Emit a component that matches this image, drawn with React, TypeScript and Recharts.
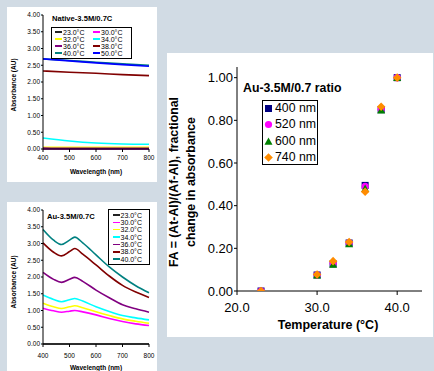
import React from 'react';
import { LineChart, Line, XAxis, YAxis, ScatterChart, Scatter } from 'recharts';

const FONT = '"Liberation Sans", Arial, Helvetica, sans-serif';
const BG = '#d1dbe4';

// ---------- Native panel ----------
const nativeWavelengths = [400, 500, 600, 700, 800];
const native23 = [0.0, 0.0, 0.0, 0.0, 0.0];
const native30 = [0.01, 0.01, 0.01, 0.01, 0.01];
const native32 = [0.05, 0.05, 0.05, 0.05, 0.05];
const native34 = [0.33, 0.24, 0.18, 0.15, 0.14];
const native36 = [0.03, 0.02, 0.02, 0.02, 0.02];
const native38 = [2.33, 2.29, 2.26, 2.22, 2.19];
const native40 = [2.69, 2.64, 2.59, 2.54, 2.5];
const native50 = [2.69, 2.63, 2.57, 2.52, 2.47];

// ---------- Au panel ----------
const auWavelengths = [400, 440, 470, 500, 520, 550, 600, 650, 700, 750, 800];
const au23 = [0, 0, 0, 0, 0, 0, 0, 0, 0, 0, 0];
const au30 = [1.07, 0.99, 0.95, 0.98, 1.0, 0.96, 0.87, 0.76, 0.67, 0.6, 0.55];
const au32 = [1.22, 1.11, 1.06, 1.11, 1.14, 1.08, 0.96, 0.85, 0.75, 0.68, 0.62];
const au34 = [1.46, 1.33, 1.26, 1.32, 1.36, 1.28, 1.11, 0.97, 0.85, 0.78, 0.72];
const au36 = [2.14, 1.93, 1.84, 1.93, 1.99, 1.87, 1.61, 1.38, 1.17, 1.05, 0.95];
const au38 = [3.02, 2.74, 2.63, 2.76, 2.85, 2.68, 2.36, 2.03, 1.75, 1.55, 1.39];
const au40 = [3.42, 3.1, 2.97, 3.1, 3.19, 3.02, 2.66, 2.3, 2.0, 1.74, 1.53];

const absTicks = [0, 0.5, 1, 1.5, 2, 2.5, 3, 3.5, 4];
const wlTicks = [400, 500, 600, 700, 800];

// ---------- FA panel ----------
const temps = [23, 30, 32, 34, 36, 38, 40];
const fa400 = [0.0, 0.075, 0.127, 0.225, 0.495, 0.85, 1.0];
const fa520 = [0.0, 0.075, 0.13, 0.226, 0.49, 0.852, 1.0];
const fa600 = [0.0, 0.074, 0.124, 0.22, 0.48, 0.848, 1.0];
const fa740 = [0.0, 0.077, 0.14, 0.23, 0.465, 0.864, 1.0];
const faTicks = [0, 0.2, 0.4, 0.6, 0.8, 1.0];
const tempTicks = [20, 30, 40];

const C = {
  t23: '#222222',
  t30: '#ff00ff',
  t32: '#ffff00',
  t34: '#00ffff',
  t36: '#800080',
  t38: '#800000',
  t40: '#008080',
  t50: '#0000ff',
};

const nativeData = nativeWavelengths.map((wl, i) => ({
  wl,
  t23: native23[i],
  t30: native30[i],
  t32: native32[i],
  t34: native34[i],
  t36: native36[i],
  t38: native38[i],
  t40: native40[i],
  t50: native50[i],
}));

const auData = auWavelengths.map((wl, i) => ({
  wl,
  t23: au23[i],
  t30: au30[i],
  t32: au32[i],
  t34: au34[i],
  t36: au36[i],
  t38: au38[i],
  t40: au40[i],
}));

const toPts = (vals: number[]) => temps.map((t, i) => ({ x: t, y: vals[i] }));

const nativeKeys = ['t23', 't30', 't32', 't34', 't36', 't38', 't40', 't50'];
const auKeys = ['t23', 't30', 't32', 't34', 't36', 't38', 't40'];
const labelOf: Record<string, string> = {
  t23: '23.0°C',
  t30: '30.0°C',
  t32: '32.0°C',
  t34: '34.0°C',
  t36: '36.0°C',
  t38: '38.0°C',
  t40: '40.0°C',
  t50: '50.0°C',
};

const smallTick = { fontSize: 6.5, fill: '#000', fontFamily: FONT };
const bigTick = { fontSize: 13, fill: '#000', fontFamily: FONT };

const Square = (p: any) => (
  <rect x={p.cx - 3.5} y={p.cy - 3.5} width={7} height={7} fill="#000080" />
);
const Circle = (p: any) => <circle cx={p.cx} cy={p.cy} r={3.6} fill="#ff00ff" />;
const Tri = (p: any) => (
  <polygon
    points={`${p.cx},${p.cy - 4} ${p.cx + 4},${p.cy + 3.3} ${p.cx - 4},${p.cy + 3.3}`}
    fill="#008000"
  />
);
const Diamond = (p: any) => (
  <polygon
    points={`${p.cx},${p.cy - 4.3} ${p.cx + 4.3},${p.cy} ${p.cx},${p.cy + 4.3} ${p.cx - 4.3},${p.cy}`}
    fill="#ff8c00"
  />
);

const abs = (l: number, t: number, extra: React.CSSProperties = {}): React.CSSProperties => ({
  position: 'absolute',
  left: l,
  top: t,
  fontFamily: FONT,
  whiteSpace: 'nowrap',
  ...extra,
});

const Rot = ({ cx, cy, size, children, lh }: any) => (
  <div
    style={{
      position: 'absolute',
      left: cx,
      top: cy,
      transform: 'translate(-50%,-50%) rotate(-90deg)',
      fontFamily: FONT,
      fontWeight: 'bold',
      fontSize: size,
      lineHeight: lh ? `${lh}px` : 'normal',
      whiteSpace: 'nowrap',
      textAlign: 'center',
      color: '#000',
    }}
  >
    {children}
  </div>
);

const Centered = ({ cx, cy, size, bold, children }: any) => (
  <div
    style={{
      position: 'absolute',
      left: cx,
      top: cy,
      transform: 'translate(-50%,-50%)',
      fontFamily: FONT,
      fontWeight: bold ? 'bold' : 'normal',
      fontSize: size,
      lineHeight: `${Math.ceil(size)}px`,
      whiteSpace: 'nowrap',
      color: '#000',
    }}
  >
    {children}
  </div>
);

const LegendLine = ({ x, y, color, label }: any) => (
  <>
    <div style={abs(x, y - 0.8, { width: 7, height: 1.6, background: color })} />
    <div style={abs(x + 8, y - 3.5, { fontSize: 7, lineHeight: '7px', color: '#000' })}>{label}</div>
  </>
);

export default function App() {
  return (
    <div
      style={{
        position: 'absolute',
        left: 0,
        top: 0,
        width: 434,
        height: 371,
        overflow: 'hidden',
        background: BG,
      }}
    >
      {/* Panel 1 */}
      <div style={abs(7, 7, { width: 150, height: 175, background: '#fff' })}>
        <LineChart width={150} height={175} data={nativeData} margin={{ top: 8, right: 8, left: 0, bottom: 0 }}>
          <XAxis
            dataKey="wl"
            type="number"
            domain={[400, 800]}
            ticks={wlTicks}
            tick={smallTick}
            tickSize={3}
            tickMargin={3}
            height={33}
            axisLine={{ stroke: '#000' }}
            tickLine={{ stroke: '#000' }}
          />
          <YAxis
            type="number"
            domain={[0, 4]}
            ticks={absTicks}
            tick={smallTick}
            tickFormatter={(v: number) => v.toFixed(2)}
            width={36}
            tickSize={2}
            tickMargin={1}
            axisLine={{ stroke: '#000' }}
            tickLine={{ stroke: '#000' }}
          />
          {nativeKeys.map((k) => (
            <Line
              key={k}
              dataKey={k}
              stroke={(C as any)[k]}
              strokeWidth={1.6}
              dot={false}
              type="monotone"
              isAnimationActive={false}
            />
          ))}
        </LineChart>
      </div>
      <div style={abs(52, 14, { fontSize: 7.6, fontWeight: 'bold', color: '#000', lineHeight: '9px' })}>
        Native-3.5M/0.7C
      </div>
      <div style={abs(51, 27, { width: 79, height: 30, border: '1px solid #000', background: '#fff' })} />
      {nativeKeys.map((k, i) => (
        <LegendLine
          key={k}
          x={55}
          y={32 + Math.floor(i / 2) * 7}
          color={(C as any)[k]}
          label={labelOf[k]}
          {...(i % 2 === 1 ? { x: 93 } : {})}
        />
      ))}
      <Rot cx={13} cy={85} size={6.5}>Absorbance (AU)</Rot>
      <Centered cx={96} cy={171} size={6.5} bold>
        Wavelength (nm)
      </Centered>

      {/* Panel 2 */}
      <div style={abs(7, 202, { width: 150, height: 175, background: '#fff' })}>
        <LineChart width={150} height={175} data={auData} margin={{ top: 8, right: 8, left: 0, bottom: 0 }}>
          <XAxis
            dataKey="wl"
            type="number"
            domain={[400, 800]}
            ticks={wlTicks}
            tick={smallTick}
            tickSize={3}
            tickMargin={6}
            height={33}
            axisLine={{ stroke: '#000' }}
            tickLine={{ stroke: '#000' }}
          />
          <YAxis
            type="number"
            domain={[0, 4]}
            ticks={absTicks}
            tick={smallTick}
            tickFormatter={(v: number) => v.toFixed(2)}
            width={36}
            tickSize={2}
            tickMargin={1}
            axisLine={{ stroke: '#000' }}
            tickLine={{ stroke: '#000' }}
          />
          {auKeys.map((k) => (
            <Line
              key={k}
              dataKey={k}
              stroke={(C as any)[k]}
              strokeWidth={1.6}
              dot={false}
              type="monotone"
              isAnimationActive={false}
            />
          ))}
        </LineChart>
      </div>
      <div style={abs(47, 212, { fontSize: 7.6, fontWeight: 'bold', color: '#000', lineHeight: '9px' })}>
        Au-3.5M/0.7C
      </div>
      <div style={abs(108, 209, { width: 40, height: 54, border: '1px solid #000', background: '#fff' })} />
      {auKeys.map((k, i) => (
        <LegendLine key={k} x={112.5} y={215 + i * 7.35} color={(C as any)[k]} label={labelOf[k]} />
      ))}
      <Rot cx={13} cy={282} size={6.5}>Absorbance (AU)</Rot>
      <Centered cx={96} cy={366.5} size={6.5} bold>
        Wavelength (nm)
      </Centered>

      {/* Panel 3 */}
      <div style={abs(167, 53, { width: 266, height: 284, background: '#fff' })}>
        <ScatterChart width={266} height={284} margin={{ top: 14, right: 11, left: 0, bottom: 0 }}>
          <XAxis
            dataKey="x"
            type="number"
            domain={[20, 43.1]}
            ticks={tempTicks}
            tick={bigTick}
            tickFormatter={(v: number) => v.toFixed(1)}
            tickSize={4}
            tickMargin={8}
            height={46}
            allowDataOverflow
            axisLine={{ stroke: '#000' }}
            tickLine={{ stroke: '#000' }}
          />
          <YAxis
            dataKey="y"
            type="number"
            domain={[0, 1.05]}
            ticks={faTicks}
            tick={bigTick}
            tickFormatter={(v: number) => v.toFixed(2)}
            width={70}
            tickSize={3}
            tickMargin={1}
            allowDataOverflow
            axisLine={{ stroke: '#000' }}
            tickLine={{ stroke: '#000' }}
          />
          <Scatter data={toPts(fa400)} shape={Square} isAnimationActive={false} />
          <Scatter data={toPts(fa520)} shape={Circle} isAnimationActive={false} />
          <Scatter data={toPts(fa600)} shape={Tri} isAnimationActive={false} />
          <Scatter data={toPts(fa740)} shape={Diamond} isAnimationActive={false} />
        </ScatterChart>
      </div>
      <div style={abs(243, 81, { fontSize: 12.3, fontWeight: 'bold', color: '#000', lineHeight: '14px' })}>
        Au-3.5M/0.7 ratio
      </div>
      <div style={abs(262, 100, { width: 54, height: 63, border: '1px solid #000', background: '#fff' })} />
      {[
        { label: '400 nm', m: <rect x={1} y={1} width={7} height={7} fill="#000080" /> },
        { label: '520 nm', m: <circle cx={4.5} cy={4.5} r={3.6} fill="#ff00ff" /> },
        { label: '600 nm', m: <polygon points="4.5,0.5 8.5,7.8 0.5,7.8" fill="#008000" /> },
        { label: '740 nm', m: <polygon points="4.5,0.2 8.8,4.5 4.5,8.8 0.2,4.5" fill="#ff8c00" /> },
      ].map((it, i) => (
        <React.Fragment key={it.label}>
          <svg style={{ position: 'absolute', left: 264, top: 104 + i * 16.3 }} width={9} height={9}>
            {it.m}
          </svg>
          <div style={abs(275, 102 + i * 16.3, { fontSize: 12.3, color: '#000', lineHeight: '13px' })}>{it.label}</div>
        </React.Fragment>
      ))}
      <Rot cx={183} cy={182} size={12.3} lh={17}>
        FA = (At-AI)/(Af-AI), fractional
        <br />
        change in absorbance
      </Rot>
      <Centered cx={328} cy={325} size={12.5} bold>
        Temperature (°C)
      </Centered>
    </div>
  );
}
